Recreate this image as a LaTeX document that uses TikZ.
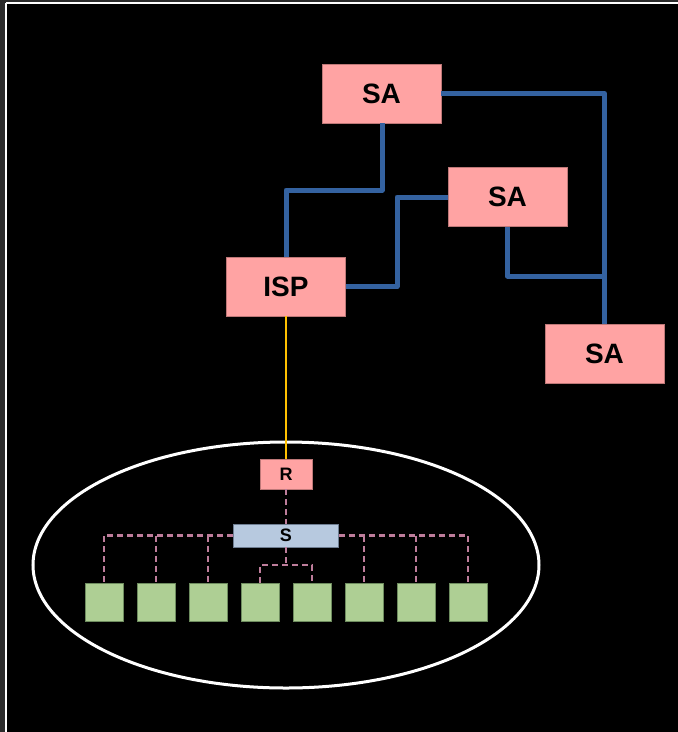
\documentclass[tikz,border=0pt]{standalone}
\usepackage{fontspec}
\setmainfont{Liberation Sans}
\usetikzlibrary{calc}
\definecolor{outerbg}{RGB}{43,43,43}
\definecolor{boxpink}{RGB}{255,163,163}
\definecolor{boxpinkline}{RGB}{190,120,120}
\definecolor{linkblue}{RGB}{52,98,160}
\definecolor{leafgreen}{RGB}{174,207,148}
\definecolor{leafline}{RGB}{110,140,95}
\definecolor{switchblue}{RGB}{183,201,223}
\definecolor{switchline}{RGB}{110,125,145}
\definecolor{dashpink}{RGB}{190,125,155}
\definecolor{uplink}{RGB}{255,192,0}
\tikzset{
  sabox/.style={draw=boxpinkline, line width=0.8pt, fill=boxpink, minimum width=119pt, minimum height=59pt, inner sep=0pt, font=\fontsize{28}{30}\selectfont\bfseries},
  smallbox/.style={draw=boxpinkline, line width=0.8pt, fill=boxpink, minimum width=52pt, minimum height=30pt, inner sep=0pt, font=\fontsize{18}{20}\selectfont\bfseries},
  switchbox/.style={draw=switchline, line width=0.8pt, fill=switchblue, minimum width=105pt, minimum height=23pt, inner sep=0pt, font=\fontsize{18}{20}\selectfont\bfseries},
  leaf/.style={draw=leafline, line width=0.6pt, fill=leafgreen, minimum width=38pt, minimum height=38pt, inner sep=0pt},
  bluelink/.style={draw=linkblue, line width=5pt, line join=round},
  lanlink/.style={draw=dashpink, line width=2.5pt, dash pattern=on 6pt off 4pt},
  yellowlink/.style={draw=uplink, line width=2.2pt}
}
\begin{document}
\begin{tikzpicture}[x=1pt,y=-1pt]
\useasboundingbox (0,0) rectangle (678,732);
\fill[outerbg] (0,0) rectangle (678,732);
\fill[black] (6,3) rectangle (680,735);
\draw[white, line width=2pt] (6,3) -- (680,3);
\draw[white, line width=2pt] (6,3) -- (6,735);

% ellipse
\draw[white, line width=3pt] (286,565) ellipse [x radius=253, y radius=123];

% nodes
\node[sabox] (SA1) at (381.5,93.5) {SA};
\node[sabox] (SA2) at (507.5,197) {SA};
\node[sabox] (ISP) at (286,286.5) {ISP};
\node[sabox] (SA3) at (604.5,353.5) {SA};
\node[smallbox] (R) at (286,474) {R};
\node[switchbox] (S) at (286,535.5) {S};
\foreach \i/\x in {1/104,2/156,3/208,4/260,5/312,6/364,7/416,8/468}
  \node[leaf] (g\i) at (\x,602.5) {};

% blue links
\coordinate (j1) at (397,240);
\coordinate (j2) at (604.5,276);
\coordinate (j3) at (382,190);
\draw[bluelink] (SA1.south -| j3) -- (j3) -| (ISP.north);
\draw[bluelink] (ISP.east) -| (j1) |- (SA2.west);
\draw[bluelink] (SA1.east) -| (SA3.north);
\draw[bluelink] (SA2.south) |- (j2);

% uplink
\draw[yellowlink] (ISP.south) -- (R.north);

% LAN
\coordinate (m) at (286,565);
\draw[lanlink] (R.south) -- (S.north);
\draw[lanlink] (S.west) -- (g1.north |- S.west) -- (g1.north);
\draw[lanlink] (g2.north |- S.west) -- (g2.north);
\draw[lanlink] (g3.north |- S.west) -- (g3.north);
\draw[lanlink] (S.east) -- (g8.north |- S.east) -- (g8.north);
\draw[lanlink] (g6.north |- S.east) -- (g6.north);
\draw[lanlink] (g7.north |- S.east) -- (g7.north);
\draw[lanlink] (S.south) -- (m);
\draw[lanlink] (g4.north) -- (g4.north |- m) -- (g5.north |- m) -- (g5.north);
\end{tikzpicture}
\end{document}
